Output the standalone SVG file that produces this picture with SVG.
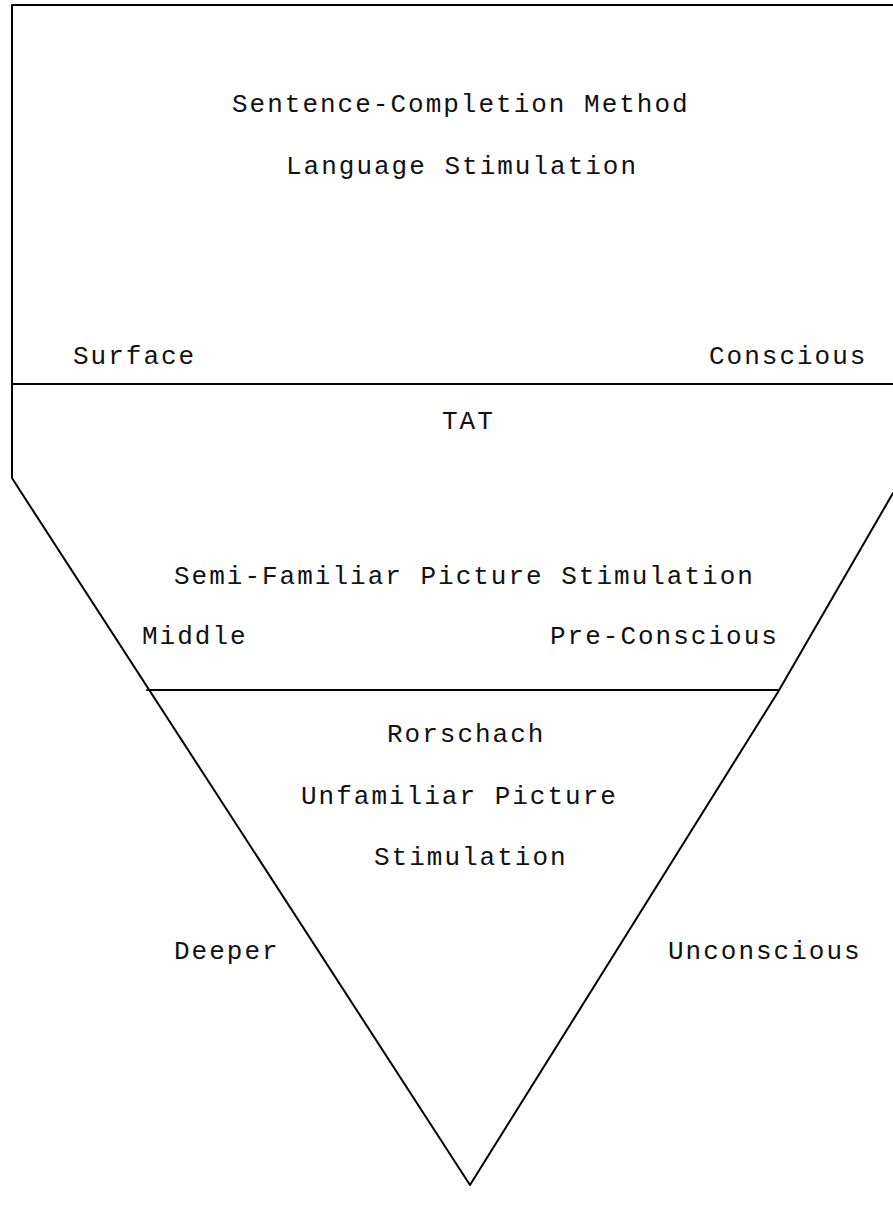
<svg xmlns="http://www.w3.org/2000/svg" width="893" height="1213" viewBox="0 0 893 1213">
<style>
.ln{fill:none;stroke:#000;stroke-width:2;stroke-linejoin:round;stroke-linecap:round}
.t{font-family:"Liberation Mono","Courier New",monospace;font-size:26px;letter-spacing:2px;fill:#111}
</style>
<rect x="0" y="0" width="893" height="1213" fill="#fff"/>
<g id="connectors">
<polyline class="ln" points="893,5 12,5 12,478 19,489 470,1185 778,692 893,493"/>
<line class="ln" x1="12" y1="384" x2="893" y2="384"/>
<line class="ln" x1="147" y1="690" x2="778" y2="690"/>
</g>
<g id="top-level">
<text class="t" x="232" y="112">Sentence-Completion Method</text>
<text class="t" x="286" y="174">Language Stimulation</text>
<text class="t" x="73" y="364">Surface</text>
<text class="t" x="709" y="364">Conscious</text>
</g>
<g id="middle-level">
<text class="t" x="442" y="429">TAT</text>
<text class="t" x="174" y="584">Semi-Familiar Picture Stimulation</text>
<text class="t" x="142" y="644">Middle</text>
<text class="t" x="550" y="644">Pre-Conscious</text>
</g>
<g id="deep-level">
<text class="t" x="387" y="742">Rorschach</text>
<text class="t" x="301" y="804">Unfamiliar Picture</text>
<text class="t" x="374" y="865">Stimulation</text>
<text class="t" x="174" y="959">Deeper</text>
<text class="t" x="668" y="959">Unconscious</text>
</g>
</svg>
